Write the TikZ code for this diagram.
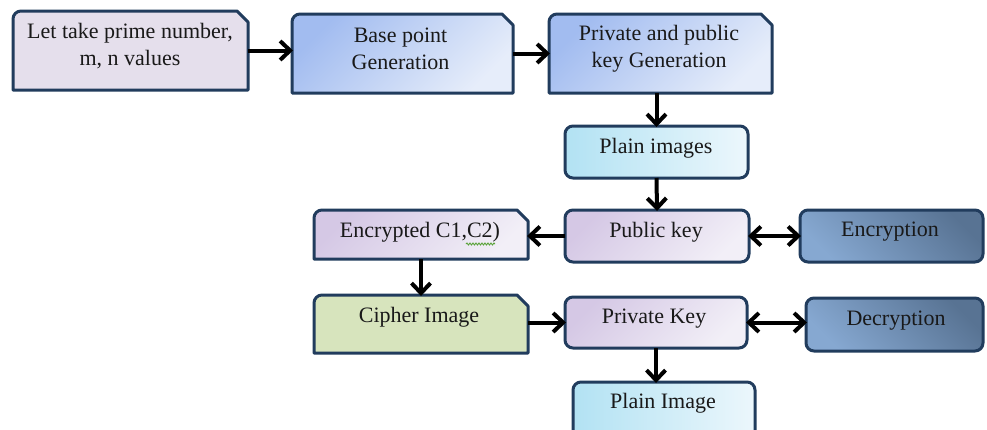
\documentclass[tikz,border=0pt]{standalone}
\usepackage{fontspec}
\setmainfont{Liberation Serif}
\usetikzlibrary{arrows.meta,decorations.pathmorphing}
\definecolor{bord}{HTML}{213C5D}
\definecolor{lav}{HTML}{E5DFEC}
\definecolor{blueA}{HTML}{A2BCF0}
\definecolor{blueB}{HTML}{E6EDFA}
\definecolor{cyanA}{HTML}{B2E2F3}
\definecolor{cyanB}{HTML}{ECF7FC}
\definecolor{pkA}{HTML}{D5C8E5}
\definecolor{pkB}{HTML}{F2EFF7}
\definecolor{stA}{HTML}{86A8D1}
\definecolor{stB}{HTML}{587393}
\definecolor{grn}{HTML}{D7E4BD}
\definecolor{squig}{HTML}{5AA33A}
\newcommand\snipoutline[2]{\path[#2] (#1.south west) -- ([yshift=-8pt]#1.north west) arc[start angle=180,end angle=90,radius=8pt] -- ([xshift=-11pt]#1.north east) -- ([yshift=-11pt]#1.north east) -- (#1.south east) -- cycle;}
\newcommand\roundoutline[2]{\path[#2, rounded corners=8pt] (#1.south west) rectangle (#1.north east);}
\tikzset{
  boxnode/.style={draw=none, rectangle, inner sep=0pt, outer sep=0pt},
  outl/.style={draw=bord, line width=3pt, line join=round},
  lbl/.style={font=\fontsize{22}{27}\selectfont, align=center, inner sep=0pt, text=black!90},
  arr/.style={line width=4pt, -{Straight Barb[length=10pt,width=19pt]}, shorten >=-1pt},
  darr/.style={line width=4pt, {Straight Barb[length=10pt,width=19pt]}-{Straight Barb[length=10pt,width=19pt]}, shorten >=-1pt, shorten <=-1pt}
}
\begin{document}
\begin{tikzpicture}[x=1pt,y=1pt]
\useasboundingbox (0,0) rectangle (987,-429);
\clip (0,0) rectangle (987,-429);
\fill[white] (0,0) rectangle (987,-429);

% box nodes
\node[boxnode, minimum width=235pt, minimum height=79pt] (b1) at (130.5,-50.5) {};
\node[boxnode, minimum width=221pt, minimum height=79pt] (b2) at (402.5,-53.5) {};
\node[boxnode, minimum width=223pt, minimum height=79pt] (b3) at (660.5,-53.5) {};
\node[boxnode, minimum width=183pt, minimum height=52pt] (pi) at (656.5,-152) {};
\node[boxnode, minimum width=214pt, minimum height=49pt] (enc) at (421,-234.5) {};
\node[boxnode, minimum width=184pt, minimum height=52pt] (ph) at (657,-236) {};
\node[boxnode, minimum width=183pt, minimum height=52pt] (en) at (891.5,-236) {};
\node[boxnode, minimum width=214pt, minimum height=58pt] (ci) at (421,-324) {};
\node[boxnode, minimum width=182pt, minimum height=51pt] (pk) at (656,-322.5) {};
\node[boxnode, minimum width=177pt, minimum height=53pt] (de) at (894.5,-324.5) {};
\node[boxnode, minimum width=182pt, minimum height=58pt] (pl) at (664,-411) {};

% outlines
\snipoutline{b1}{outl, fill=lav}
\snipoutline{b2}{outl, top color=blueA, bottom color=blueB, shading angle=45}
\snipoutline{b3}{outl, top color=blueA, bottom color=blueB, shading angle=45}
\roundoutline{pi}{outl, left color=cyanA, right color=cyanB}
\snipoutline{enc}{outl, top color=pkA, bottom color=pkB, shading angle=45}
\roundoutline{ph}{outl, top color=pkA, bottom color=pkB, shading angle=45}
\roundoutline{en}{outl, top color=stB, bottom color=stA, shading angle=-45}
\snipoutline{ci}{outl, fill=grn}
\roundoutline{pk}{outl, top color=pkA, bottom color=pkB, shading angle=45}
\roundoutline{de}{outl, top color=stB, bottom color=stA, shading angle=-45}
\roundoutline{pl}{outl, left color=cyanA, right color=cyanB}

% labels
\node[lbl] (t1) at (130,-46.5) {Let take prime number,\\m, n values};
\node[lbl] (t2) at (400.5,-48.5) {Base point\\Generation};
\node[lbl] (t3) at (659,-48.5) {Private and public\\key Generation};
\node[lbl] (tpi) at (656,-148) {Plain images};
\node[lbl] (tenc) at (420,-232) {Encrypted C1,C2)};
\node[lbl] (tph) at (656,-232) {Public key};
\node[lbl] (ten) at (890,-232) {Encryption};
\node[lbl] (tci) at (419,-317) {Cipher Image};
\node[lbl] (tpk) at (654,-319) {Private Key};
\node[lbl] (tde) at (896,-321) {Decryption};
\node[lbl] (tpl) at (663,-403) {Plain Image};

% spell-check squiggle
\draw[squig, line width=0.9pt, decorate, decoration={snake, amplitude=1pt, segment length=3pt}] (466,-244) -- (495,-244);

% connectors
\draw[arr] (b1.east) -- (b1.east -| b2.west);
\draw[arr] (b2.east) -- (b2.east -| b3.west);
\draw[arr] (b3.south -| pi.north) -- (pi.north);
\draw[arr] (pi.south) -- (ph.north);
\draw[arr] (ph.west) -- (ph.west -| enc.east);
\draw[darr] (ph.east) -- (ph.east -| en.west);
\draw[arr] (enc.south) -- (ci.north);
\draw[arr] (ci.east |- pk.west) -- (pk.west);
\draw[darr] (pk.east) -- (pk.east -| de.west);
\draw[arr] (pk.south) -- (pk.south |- pl.north);
\end{tikzpicture}
\end{document}
